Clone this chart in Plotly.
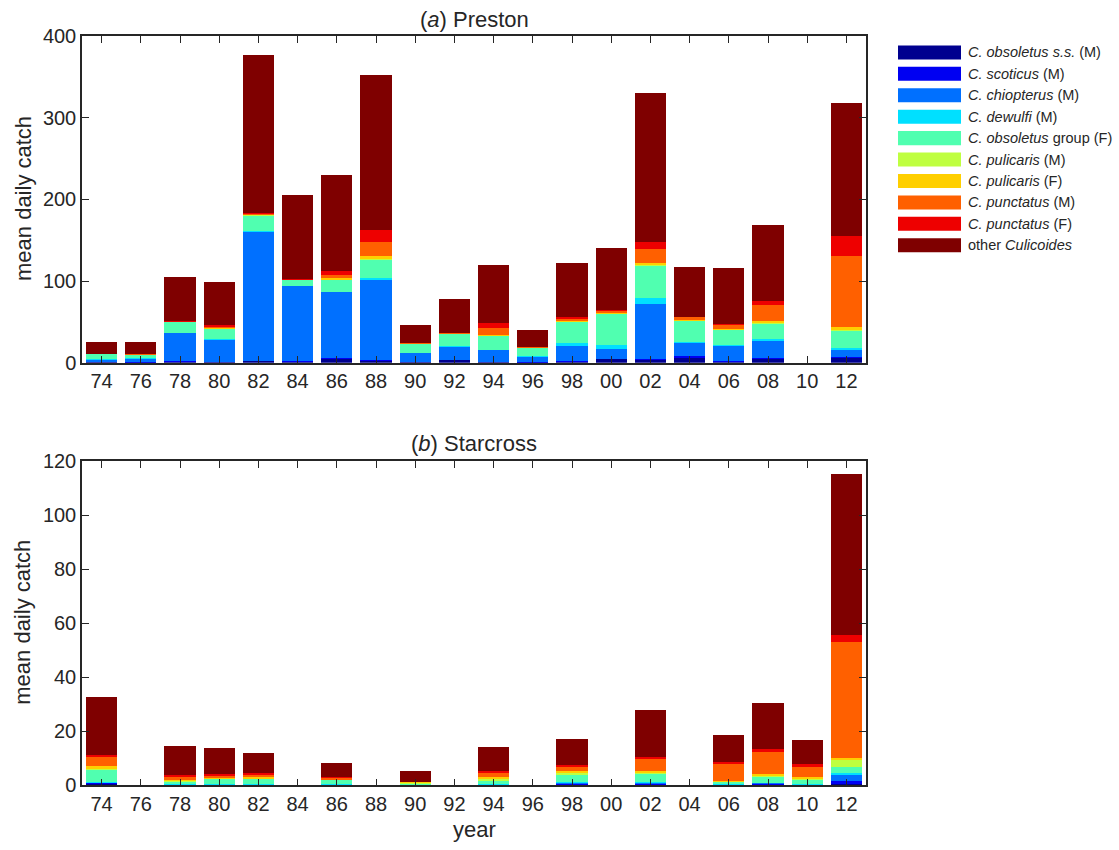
import plotly.graph_objects as go

# ---- data -------------------------------------------------------------
years = ["74", "76", "78", "80", "82", "84", "86", "88", "90", "92",
         "94", "96", "98", "00", "02", "04", "06", "08", "10", "12"]

series_names = [
    "<i>C. obsoletus s.s.</i> (M)",
    "<i>C. scoticus</i> (M)",
    "<i>C. chiopterus</i> (M)",
    "<i>C. dewulfi</i> (M)",
    "<i>C. obsoletus</i> group (F)",
    "<i>C. pulicaris</i> (M)",
    "<i>C. pulicaris</i> (F)",
    "<i>C. punctatus</i> (M)",
    "<i>C. punctatus</i> (F)",
    "other <i>Culicoides</i>",
]
series_colors = ["#00008F", "#0000F2", "#0070FF", "#00E0FF", "#50FFB0",
                 "#BFFF40", "#FFCF00", "#FF6000", "#EE0000", "#7F0000"]

# Preston: mean daily catch per year, one list per taxon
preston_obsoletus_ss = [0.5, 0.3, 1.5, 0.5, 2.0, 1.0, 4.5, 2.5, 0.5, 3.2,
                        0.8, 0.3, 1.2, 4.2, 3.2, 5.5, 1.5, 4.5, 0, 5.5]
preston_scoticus = [0.3, 0.3, 0.5, 0.3, 0.5, 0.5, 0.8, 0.5, 0.3, 0.5,
                    0.5, 0.3, 0.5, 0.7, 0.8, 2.7, 0.5, 0.8, 0, 1.0]
preston_chiopterus = [3.2, 4.5, 34.2, 27.7, 158.2, 92.5, 81.4, 99.0, 11.1, 16.2,
                      13.9, 7.0, 19.2, 12.3, 67.6, 16.3, 18.9, 20.9, 0, 9.0]
preston_dewulfi = [0.2, 0.2, 0.5, 0.5, 0.8, 0.3, 0.5, 1.5, 0.3, 0.5,
                   0.3, 0.2, 2.8, 4.8, 7.3, 1.0, 1.1, 2.8, 0, 2.1]
preston_obsoletus_grp = [6.4, 4.1, 12.8, 12.3, 18.9, 7.1, 14.6, 22.5, 10.7, 14.8,
                         16.8, 10.6, 26.6, 37.7, 39.3, 25.2, 18.0, 18.4, 0, 21.7]
preston_pulicaris_m = [0, 0, 0.2, 0.2, 0.3, 0, 0.3, 1.0, 0, 0.2,
                       0.6, 0, 0.3, 0.4, 1.0, 0.3, 0.3, 1.5, 0, 1.3]
preston_pulicaris_f = [0.2, 0.3, 0.3, 0.8, 0.8, 0.2, 1.4, 4.0, 0.2, 0.3,
                       1.5, 0.2, 0.9, 0.9, 2.7, 0.8, 0.7, 2.6, 0, 2.8]
preston_punctatus_m = [0.4, 0.4, 0.5, 2.0, 1.5, 0.3, 4.1, 16.6, 0.4, 0.3,
                       8.6, 0.3, 2.5, 2.4, 18.0, 4.2, 5.0, 19.3, 0, 87.9]
preston_punctatus_f = [0, 0, 0.2, 1.8, 1.0, 0.2, 4.4, 14.4, 0, 0.2,
                       5.7, 0.2, 2.0, 0.6, 8.6, 0, 1.5, 5.2, 0, 23.7]
preston_other = [13.7, 14.9, 54.0, 52.9, 193.0, 103.6, 118.0, 190.0, 22.3, 41.8,
                 71.3, 20.9, 66.0, 76.7, 182.5, 61.8, 68.2, 92.5, 0, 163.0]

# Starcross: mean daily catch per year, one list per taxon
starcross_obsoletus_ss = [0.6, 0, 0.1, 0.1, 0.2, 0, 0.1, 0, 0.05, 0,
                          0.1, 0, 0.4, 0, 0.4, 0, 0.1, 0.4, 0.1, 0.4]
starcross_scoticus = [0.3, 0, 0.1, 0.1, 0.1, 0, 0.1, 0, 0.05, 0,
                      0.1, 0, 0.4, 0, 0.4, 0, 0.1, 0.4, 0.1, 1.2]
starcross_chiopterus = [0.2, 0, 0.1, 0.2, 0.2, 0, 0.1, 0, 0.05, 0,
                        0.1, 0, 0.2, 0, 0.2, 0, 0.1, 0.1, 0.2, 2.1]
starcross_dewulfi = [0.1, 0, 0.1, 0.1, 0.1, 0, 0.1, 0, 0.05, 0,
                     0.1, 0, 0.1, 0, 0.2, 0, 0.1, 0.1, 0.1, 1.0]
starcross_obsoletus_grp = [4.7, 0, 1.1, 2.0, 1.9, 0, 1.6, 0, 0.6, 0,
                           1.4, 0, 3.1, 0, 3.2, 0, 1.1, 2.2, 1.7, 2.2]
starcross_pulicaris_m = [0.5, 0, 0.3, 0.2, 0.2, 0, 0.1, 0, 0.2, 0,
                         0.6, 0, 0.4, 0, 0.4, 0, 0.1, 0.5, 0.3, 2.7]
starcross_pulicaris_f = [0.7, 0, 0.3, 0.3, 0.3, 0, 0.2, 0, 0.2, 0,
                         0.7, 0, 0.6, 0, 0.6, 0, 0.2, 0.7, 0.5, 0.6]
starcross_punctatus_m = [3.4, 0, 1.0, 0.7, 0.9, 0, 0.6, 0, 0, 0,
                         1.4, 0, 1.7, 0, 4.4, 0, 6.2, 7.9, 4.0, 42.7]
starcross_punctatus_f = [0.9, 0, 0.6, 0.5, 0.6, 0, 0.3, 0, 0, 0,
                         0.8, 0, 0.6, 0, 0.9, 0, 0.6, 1.0, 0.9, 2.6]
starcross_other = [21.2, 0, 10.9, 9.7, 7.6, 0, 5.0, 0, 4.1, 0,
                   8.8, 0, 9.7, 0, 17.3, 0, 10.2, 17.2, 8.8, 59.6]

preston = [preston_obsoletus_ss, preston_scoticus, preston_chiopterus,
           preston_dewulfi, preston_obsoletus_grp, preston_pulicaris_m,
           preston_pulicaris_f, preston_punctatus_m, preston_punctatus_f,
           preston_other]
starcross = [starcross_obsoletus_ss, starcross_scoticus, starcross_chiopterus,
             starcross_dewulfi, starcross_obsoletus_grp, starcross_pulicaris_m,
             starcross_pulicaris_f, starcross_punctatus_m, starcross_punctatus_f,
             starcross_other]

preston_yticks = [0, 100, 200, 300, 400]
starcross_yticks = [0, 20, 40, 60, 80, 100, 120]

# ---- figure -----------------------------------------------------------
W, H = 1119, 850
FONT = "Liberation Sans, Arial, Helvetica, sans-serif"
INK = "#262626"

xpos = list(range(len(years)))
fig = go.Figure()

for site, xa, ya in [(preston, "x", "y"), (starcross, "x2", "y2")]:
    for name, color, vals in zip(series_names, series_colors, site):
        fig.add_trace(go.Bar(
            x=xpos, y=vals, name=name, xaxis=xa, yaxis=ya,
            width=0.8, marker=dict(color=color, line=dict(width=0)),
            showlegend=False, offsetgroup=xa,
        ))


def px_x(v):
    return v / W


def px_y(v):
    return 1 - v / H


common_x = dict(
    domain=[px_x(82), px_x(866)], range=[-0.5, len(years) - 0.5],
    tickvals=xpos, ticktext=years, ticks="inside", ticklen=7,
    tickcolor=INK, tickwidth=1.3, showline=True, linecolor=INK, linewidth=1.5,
    mirror="ticks", showgrid=False, zeroline=False,
    tickfont=dict(family=FONT, size=20, color=INK),
)
common_y = dict(
    ticks="inside", ticklen=7, tickcolor=INK, tickwidth=1.3,
    showline=True, linecolor=INK, linewidth=1.5, mirror="ticks",
    showgrid=False, zeroline=False,
    tickfont=dict(family=FONT, size=20, color=INK),
)

fig.update_layout(
    width=W, height=H, margin=dict(l=0, r=0, t=0, b=0),
    paper_bgcolor="white", plot_bgcolor="white",
    barmode="stack", bargap=0.2,
    font=dict(family=FONT, color=INK),
    xaxis=dict(anchor="y", **common_x),
    yaxis=dict(anchor="x", domain=[px_y(361), px_y(26)], range=[0, 400],
               tickvals=preston_yticks, **common_y),
    xaxis2=dict(anchor="y2", **common_x),
    yaxis2=dict(anchor="x2", domain=[px_y(795), px_y(462)], range=[0, 120],
                tickvals=starcross_yticks, **common_y),
)

annotations = [
    dict(text="(<i>a</i>) Preston", x=px_x(474), y=px_y(9)),
    dict(text="(<i>b</i>) Starcross", x=px_x(474), y=px_y(444)),
    dict(text="year", x=px_x(474), y=px_y(840)),
    dict(text="mean daily catch", x=px_x(23), y=px_y(193), textangle=-90),
    dict(text="mean daily catch", x=px_x(23), y=px_y(628), textangle=-90),
]
for a in annotations:
    a.update(xref="paper", yref="paper", showarrow=False,
             xanchor="center", yanchor="middle",
             font=dict(family=FONT, size=22, color=INK))
    fig.add_annotation(**a)

# legend: swatch + label per taxon
row0, step = 42.5, 22.0
for i, (name, color) in enumerate(zip(series_names, series_colors)):
    cy = row0 + i * step
    fig.add_shape(type="rect", xref="paper", yref="paper",
                  x0=px_x(898), x1=px_x(961), y0=px_y(cy + 7.2), y1=px_y(cy - 7.2),
                  fillcolor=color, line=dict(width=0))
    fig.add_annotation(text=name, xref="paper", yref="paper",
                       x=px_x(966), y=px_y(cy), xanchor="left", yanchor="middle",
                       showarrow=False,
                       font=dict(family=FONT, size=14.5, color=INK))

fig.write_html("out.html")
